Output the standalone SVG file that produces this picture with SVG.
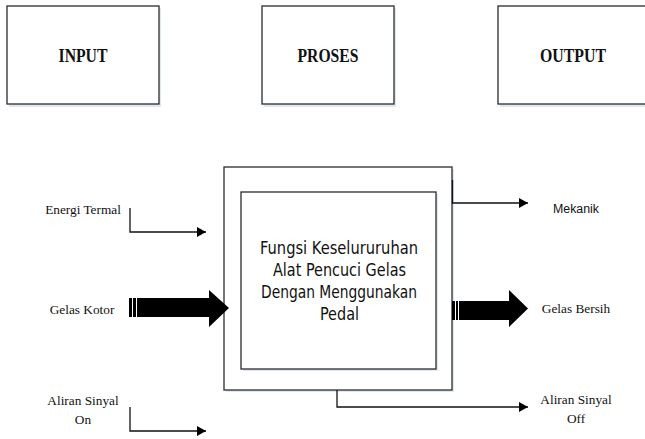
<svg xmlns="http://www.w3.org/2000/svg" width="645" height="439" viewBox="0 0 645 439">
<defs>
<marker id="ah" markerUnits="userSpaceOnUse" markerWidth="10" markerHeight="11" refX="9" refY="5" orient="auto">
<path d="M0,0 L9,5 L0,10 Z" fill="#000"/>
</marker>
<style>
.box{fill:#fff;stroke:#2b2b2b;stroke-width:1.3}
.sh{fill:#dfe8f2}
.ttl{font-family:"Liberation Serif","Times New Roman",serif;font-weight:bold;font-size:18px;fill:#111;text-anchor:middle}
.ser{font-family:"Liberation Serif","Times New Roman",serif;font-size:13.3px;fill:#111;text-anchor:middle}
.san{font-family:"Liberation Sans",Arial,sans-serif;font-size:12px;fill:#111;text-anchor:middle}
.fn{font-family:"DejaVu Sans Condensed","DejaVu Sans",sans-serif;font-size:17.5px;fill:#111;text-anchor:middle}
.ln{fill:none;stroke:#111;stroke-width:1.3}
.big{fill:#000}
.stripe{stroke:#fff;stroke-width:1}
</style>
</defs>
<rect width="645" height="439" fill="#fff"/>
<g id="input">
<rect class="sh" x="9" y="8" width="152" height="99"/>
<rect class="box" x="7" y="6" width="152" height="98"/>
<text class="ttl" x="83" y="61.5" textLength="49" lengthAdjust="spacingAndGlyphs">INPUT</text>
</g>
<g id="proses">
<rect class="sh" x="264" y="8" width="132" height="99"/>
<rect class="box" x="262" y="6" width="132" height="98"/>
<text class="ttl" x="328" y="61.5" textLength="61" lengthAdjust="spacingAndGlyphs">PROSES</text>
</g>
<g id="output">
<rect class="sh" x="500" y="8" width="152" height="99"/>
<rect class="box" x="498" y="6" width="152" height="98"/>
<text class="ttl" x="573" y="61.5" textLength="66" lengthAdjust="spacingAndGlyphs">OUTPUT</text>
</g>
<g id="fungsi">
<rect class="sh" x="226" y="169" width="228" height="223"/>
<rect class="box" x="224" y="167" width="228" height="223"/>
<rect class="sh" x="243" y="194" width="195" height="177"/>
<rect class="box" x="241" y="192" width="195" height="177"/>
<text class="fn" x="339" y="254" textLength="158" lengthAdjust="spacingAndGlyphs">Fungsi Keselururuhan</text>
<text class="fn" x="339.5" y="276" textLength="133" lengthAdjust="spacingAndGlyphs">Alat Pencuci Gelas</text>
<text class="fn" x="339" y="298" textLength="156" lengthAdjust="spacingAndGlyphs">Dengan Menggunakan</text>
<text class="fn" x="339.5" y="320" textLength="39" lengthAdjust="spacingAndGlyphs">Pedal</text>
</g>
<g id="labels">
<text class="ser" x="83" y="213.5">Energi Termal</text>
<text class="ser" x="82" y="313.5">Gelas Kotor</text>
<text class="ser" x="83" y="404.5">Aliran Sinyal</text>
<text class="ser" x="83" y="423.5">On</text>
<text class="san" x="576" y="213" textLength="46" lengthAdjust="spacingAndGlyphs">Mekanik</text>
<text class="ser" x="576" y="313">Gelas Bersih</text>
<text class="ser" x="576" y="404">Aliran Sinyal</text>
<text class="ser" x="576" y="423">Off</text>
</g>
<g id="connectors">
<path class="ln" d="M130,208 V232 H206" marker-end="url(#ah)"/>
<path class="ln" d="M130,407 V431 H206" marker-end="url(#ah)"/>
<path class="ln" d="M452.5,180 V203 H528" marker-end="url(#ah)"/>
<path class="ln" d="M337,390 V407 H528" marker-end="url(#ah)"/>
<polygon class="big" points="129,298 209,298 209,290 229,308 209,327 209,317 129,317"/>
<line class="stripe" x1="132.5" y1="298" x2="132.5" y2="317"/>
<line class="stripe" x1="136.5" y1="298" x2="136.5" y2="317"/>
<polygon class="big" points="452,301 509,301 509,290 528,308.5 509,327 509,320 452,320"/>
<line class="stripe" x1="455.5" y1="301" x2="455.5" y2="320"/>
<line class="stripe" x1="458.5" y1="301" x2="458.5" y2="320"/>
</g>
</svg>
